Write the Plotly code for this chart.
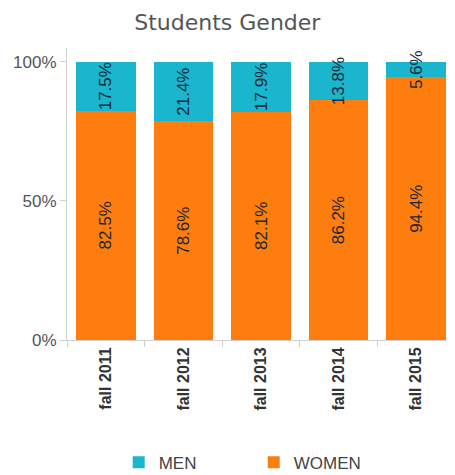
import plotly.graph_objects as go

# datos
semesters = ['fall 2011', 'fall 2012', 'fall 2013', 'fall 2014', 'fall 2015']
men = [17.5, 21.4, 17.9, 13.8, 5.6]
women = [82.5, 78.6, 82.1, 86.2, 94.4]

label_font = dict(family='Liberation Sans, Arial', size=17, color='#1c2636')

fig = go.Figure()

fig.add_trace(go.Bar(
    x=semesters, y=women, name='WOMEN',
    marker=dict(color='#fd7e0f', line=dict(width=0)),
    text=[f'{v}%' for v in women],
    textposition='inside', insidetextanchor='middle',
    textangle=-90, constraintext='none',
    textfont=label_font,
))
fig.add_trace(go.Bar(
    x=semesters, y=men, name='MEN',
    marker=dict(color='#1ab6cd', line=dict(width=0)),
    text=[f'{v}%' for v in men],
    textposition='inside', insidetextanchor='middle',
    textangle=-90, constraintext='none',
    textfont=label_font,
))

# la página añade 8px de margen al body, se compensa aquí
fig.update_layout(
    barmode='stack',
    bargap=0.23,
    width=455, height=475,
    margin=dict(l=59, r=8, t=40, b=143),
    paper_bgcolor='white', plot_bgcolor='white',
    title=dict(text='Students Gender', x=0.482, xanchor='center', xref='container',
               y=0.97, yanchor='middle', yref='container',
               font=dict(family='DejaVu Sans', size=22, color='#555555')),
    hovermode=False,
    showlegend=True,
    legend=dict(orientation='h', traceorder='reversed',
                x=0.54, xanchor='center', xref='container',
                y=0.005, yanchor='bottom', yref='container',
                entrywidth=90,
                font=dict(family='Liberation Sans, Arial', size=17, color='#444444')),
    xaxis=dict(showline=True, linecolor='#d0d0d0', ticks='outside',
               tickson='boundaries', ticklen=6, tickcolor='#d0d0d0',
               tickangle=-90, automargin=False,
               tickfont=dict(family='Liberation Sans, Arial', size=16,
                             color='#333333', weight='bold')),
    yaxis=dict(range=[0, 105], tickvals=[0, 50, 100],
               ticktext=['0%', '50%', '100%'],
               showgrid=False, zeroline=False, automargin=False,
               showline=True, linecolor='#d0d0d0', ticks='outside',
               ticklen=6, tickcolor='#d0d0d0',
               tickfont=dict(family='Liberation Sans, Arial', size=17, color='#555555')),
)

fig.write_html('out.html')
